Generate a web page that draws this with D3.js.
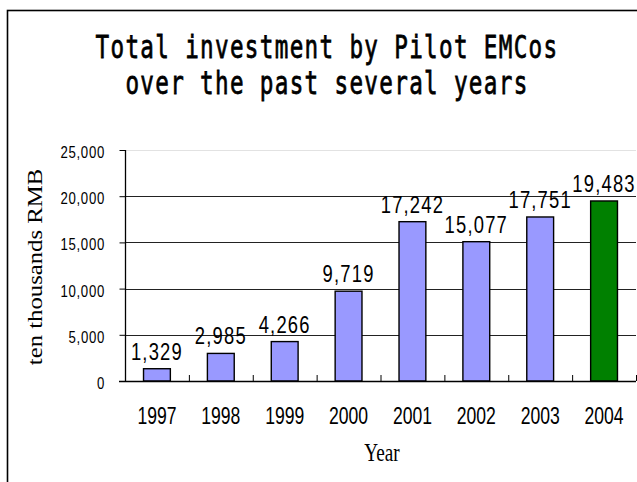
<!DOCTYPE html>
<html>
<head>
<meta charset="utf-8">
<script src="https://cdn.jsdelivr.net/npm/d3@7"></script>
<style>
  html, body { margin: 0; padding: 0; background: #fff; }
  svg { display: block; }
</style>
</head>
<body>
<svg id="chart" width="637" height="482"></svg>
<script>
// Investment totals per year (ten thousands RMB)
const years = ["1997", "1998", "1999", "2000", "2001", "2002", "2003", "2004"];
const investment = [1329, 2985, 4266, 9719, 17242, 15077, 17751, 19483];
const yTicks = [0, 5000, 10000, 15000, 20000, 25000];
const titleLines = ["Total investment by Pilot EMCos", "over the past several years"];
const yTitle = "ten thousands RMB";
const xTitle = "Year";

const svg = d3.select("#chart");
const plotLeft = 125, plotRight = 636, plotTop = 150, plotBottom = 381;

// Outer frame
svg.append("rect")
  .attr("x", 7.5).attr("y", 10.5)
  .attr("width", 700).attr("height", 600)
  .attr("fill", "none").attr("stroke", "#000").attr("stroke-width", 1.6);

// Title: narrow monospaced lettering
const title = svg.append("g");
titleLines.forEach((line, i) => {
  title.append("text")
    .attr("transform", `translate(327,${58 + i * 36}) scale(0.78,1.08)`)
    .attr("text-anchor", "middle")
    .attr("font-family", "'DejaVu Sans Mono', monospace")
    .attr("font-size", 29)
    .attr("letter-spacing", 1.7)
    .attr("fill", "#000")
    .attr("stroke", "#000")
    .attr("stroke-width", 0.7)
    .text(line);
});

const x = d3.scaleBand().domain(years).range([plotLeft, plotRight]).paddingInner(0.58).paddingOuter(0.29);
const xCat = d3.scaleBand().domain(years).range([plotLeft, plotRight]).padding(0);
const y = d3.scaleLinear().domain([0, 25000]).range([plotBottom, plotTop]);
const fmt = d3.format(",");

// Gridlines
svg.append("g").selectAll("line")
  .data(yTicks.filter(t => t > 0))
  .join("line")
  .attr("x1", plotLeft).attr("x2", plotRight)
  .attr("y1", d => Math.round(y(d)) + 0.5).attr("y2", d => Math.round(y(d)) + 0.5)
  .attr("stroke", d => d === 25000 ? "#e2e2e2" : "#222")
  .attr("stroke-width", d => d === 25000 ? 1 : 1.2);

// Y axis
const yAxis = svg.append("g").attr("transform", `translate(${plotLeft + 0.5},0)`)
  .call(d3.axisLeft(y).tickValues(yTicks).tickSize(6).tickFormat(""));
yAxis.select(".domain").remove();
yAxis.selectAll(".tick line").attr("stroke", "#000");
yAxis.append("line").attr("x1", 0).attr("x2", 0)
  .attr("y1", y(25000)).attr("y2", y(0)).attr("stroke", "#000").attr("stroke-width", 1.3);

svg.append("g").selectAll("text")
  .data(yTicks)
  .join("text")
  .attr("transform", d => `translate(105,${y(d) + 8}) scale(0.88,1.05)`)
  .attr("text-anchor", "end")
  .attr("font-family", "'Liberation Sans', Arial, sans-serif")
  .attr("font-size", 15)
  .attr("letter-spacing", 0.8)
  .attr("fill", "#000")
  .text(d => fmt(d));

// Bars
svg.append("g").selectAll("rect")
  .data(years.map((yr, i) => ({ yr, v: investment[i], last: i === years.length - 1 })))
  .join("rect")
  .attr("x", d => x(d.yr))
  .attr("y", d => y(d.v))
  .attr("width", x.bandwidth())
  .attr("height", d => y(0) - y(d.v))
  .attr("fill", d => d.last ? "#008000" : "#9999ff")
  .attr("stroke", "#000")
  .attr("stroke-width", 1.4);

// Value labels
svg.append("g").selectAll("text")
  .data(years.map((yr, i) => ({ yr, v: investment[i] })))
  .join("text")
  .attr("transform", d => `translate(${x(d.yr) + x.bandwidth() / 2},${y(d.v) - 9}) scale(0.8,1.08)`)
  .attr("text-anchor", "middle")
  .attr("font-family", "'Liberation Sans', Arial, sans-serif")
  .attr("font-size", 23)
  .attr("letter-spacing", 1.5)
  .attr("fill", "#000")
  .text(d => fmt(d.v));

// X axis line and category ticks
const xAxisG = svg.append("g");
xAxisG.append("line")
  .attr("x1", plotLeft - 6).attr("x2", plotRight)
  .attr("y1", plotBottom + 0.5).attr("y2", plotBottom + 0.5)
  .attr("stroke", "#000").attr("stroke-width", 1.3);
xAxisG.selectAll("line.cat")
  .data(years)
  .join("line").attr("class", "cat")
  .attr("x1", d => xCat(d) + xCat.bandwidth() + 0.5)
  .attr("x2", d => xCat(d) + xCat.bandwidth() + 0.5)
  .attr("y1", plotBottom - 6).attr("y2", plotBottom)
  .attr("stroke", "#000");

// Year labels
svg.append("g").selectAll("text")
  .data(years)
  .join("text")
  .attr("transform", d => `translate(${x(d) + x.bandwidth() / 2},424) scale(0.8,1.08)`)
  .attr("text-anchor", "middle")
  .attr("font-family", "'Liberation Sans', Arial, sans-serif")
  .attr("font-size", 22)
  .attr("fill", "#000")
  .text(d => d);

// Axis titles
svg.append("text")
  .attr("transform", `translate(382,461) scale(0.8,1.05)`)
  .attr("text-anchor", "middle")
  .attr("font-family", "'Liberation Serif', 'Times New Roman', serif")
  .attr("font-size", 24)
  .attr("fill", "#000")
  .text(xTitle);

svg.append("text")
  .attr("transform", `translate(42,267) rotate(-90) scale(1.03,0.85)`)
  .attr("text-anchor", "middle")
  .attr("font-family", "'Liberation Serif', 'Times New Roman', serif")
  .attr("font-size", 24)
  .attr("fill", "#000")
  .text(yTitle);
</script>
</body>
</html>
